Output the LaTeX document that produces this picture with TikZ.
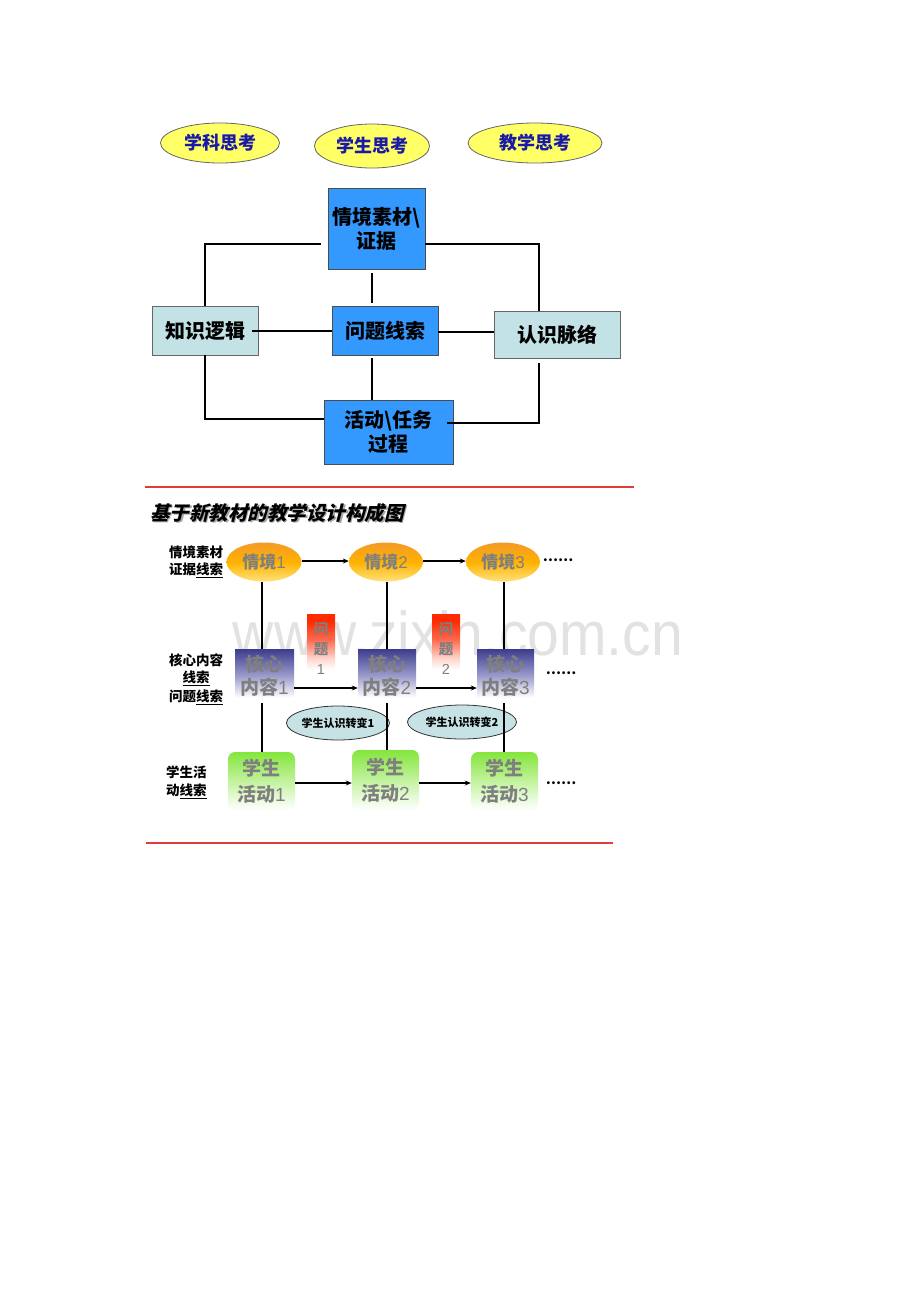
\documentclass[tikz,border=0pt]{standalone}
\usepackage{fontspec}
\newfontfamily\cjk{Noto Sans CJK SC}
\newfontfamily\cjksl[FakeSlant=0.25]{Noto Sans CJK SC}
\newfontfamily\latin{Liberation Sans}
\usetikzlibrary{shapes.geometric,arrows.meta}
\definecolor{thinkfill}{HTML}{FFFF66}
\definecolor{thinktext}{HTML}{1A1AA8}
\definecolor{bluebox}{HTML}{3399FF}
\definecolor{cyanbox}{HTML}{C2E2E6}
\definecolor{redrule}{HTML}{E03C3C}
\definecolor{graytext}{HTML}{7F7F7F}
\definecolor{orangetop}{HTML}{F39A2A}
\definecolor{orangebot}{HTML}{FFE27A}
\definecolor{coretop}{HTML}{3C3C8E}
\definecolor{coremid}{HTML}{9C9CCC}
\definecolor{redtop}{HTML}{FF2A00}
\definecolor{redmid}{HTML}{FF6A50}
\definecolor{redlow}{HTML}{FFD8D0}
\definecolor{greentop}{HTML}{84E63C}
\definecolor{tealfill}{HTML}{C6E2E4}
\definecolor{wm}{HTML}{E2E2E2}
\pgfdeclareverticalshading{probshade}{100bp}{color(0bp)=(white); color(25bp)=(white); color(34bp)=(white); color(42bp)=(redlow); color(56bp)=(redmid); color(70bp)=(redtop); color(100bp)=(redtop)}
\pgfdeclareverticalshading{coreshade}{100bp}{color(0bp)=(white); color(25bp)=(white); color(30bp)=(white); color(50bp)=(coremid); color(75bp)=(coretop); color(100bp)=(coretop)}
\tikzset{
  think/.style={ellipse, draw=black!60, line width=0.8pt, fill=thinkfill, inner sep=0pt,
    text=thinktext, font=\cjk\bfseries\fontsize{18}{18}\selectfont},
  bbox/.style={rectangle, draw=black!70, line width=0.8pt, fill=bluebox, inner sep=0pt,
    align=center, font=\cjk\bfseries\fontsize{20}{24}\selectfont},
  cbox/.style={rectangle, draw=black!60, line width=0.8pt, fill=cyanbox, inner sep=0pt,
    align=center, font=\cjk\bfseries\fontsize{20}{24}\selectfont},
  conn/.style={draw=black, line width=2pt},
  lbl/.style={inner sep=0pt, font=\cjk\bfseries\fontsize{13.5}{14}\selectfont},
  sit/.style={ellipse, inner sep=0pt, top color=orangetop, bottom color=orangebot,
    middle color=orange!60!yellow, text=graytext, font=\cjk\bfseries\fontsize{17}{18}\selectfont},
  core/.style={rectangle, inner sep=0pt, shading=coreshade,
    align=center, text=graytext, font=\cjk\bfseries\fontsize{19}{23}\selectfont},
  prob/.style={rectangle, inner sep=0pt, shading=probshade,
    align=center, text=graytext, font=\cjk\bfseries\fontsize{14.5}{20}\selectfont},
  chg/.style={ellipse, draw=black!80, line width=0.8pt, fill=tealfill, inner sep=0pt,
    font=\cjk\bfseries\fontsize{11}{12}\selectfont},
  act/.style={rectangle, rounded corners=7pt, inner sep=0pt, top color=greentop, bottom color=white,
    align=center, text=graytext, font=\cjk\bfseries\fontsize{19}{26}\selectfont},
  arr/.style={draw=black, line width=1.6pt, -{Stealth[length=6pt,width=5pt]}},
  ln/.style={draw=black, line width=1.8pt},
  dots/.style={inner sep=0pt, font=\cjk\bfseries\fontsize{13.5}{14}\selectfont},
}
\begin{document}
\begin{tikzpicture}[x=1pt,y=-1pt]
\useasboundingbox (0,0) rectangle (920,1302);
\fill[white] (0,0) rectangle (920,1302);

% watermark (behind everything)
\node[inner sep=0pt, text=wm, xscale=0.92] (wmark) at (458,633) {\latin\fontsize{62}{62}\selectfont www.zixin.com.cn};

% ---------- top part ----------
\node[think, minimum width=119pt, minimum height=40pt] (t1) at (220,143) {学科思考};
\node[think, minimum width=115pt, minimum height=44pt] (t2) at (372,146) {学生思考};
\node[think, minimum width=134pt, minimum height=40pt] (t3) at (535,143) {教学思考};

\node[bbox, minimum width=97pt, minimum height=81pt] (qj) at (376.5,228.5) {情境素材\textbackslash\\证据};
\node[bbox, minimum width=106pt, minimum height=49pt] (wt) at (385,330.5) {问题线索};
\node[cbox, minimum width=106pt, minimum height=49pt] (zs) at (205,330.5) {知识逻辑};
\node[cbox, minimum width=126pt, minimum height=47pt] (rs) at (557,334.5) {认识脉络};
\node[bbox, minimum width=129pt, minimum height=64pt] (hd) at (388.5,432) {活动\textbackslash 任务\\过程};

\coordinate (c1) at (321,244);
\coordinate (c2) at (539,244);
\coordinate (v1) at (372,0);
\coordinate (h2) at (0,332);
\coordinate (h3) at (0,419);
\coordinate (h4) at (0,423);
\draw[conn] (c1) -| (zs.north);
\draw[conn] (qj.east |- c2) -- (c2) -- (c2 |- rs.north);
\draw[conn] ([yshift=-4pt]qj.south -| v1) -- ([yshift=3pt]wt.north -| v1);
\draw[conn] ([xshift=-6pt]zs.east) -- (wt.west);
\draw[conn] (wt.east |- h2) -- (rs.west |- h2);
\draw[conn] ([yshift=-3pt]wt.south -| v1) -- (hd.north -| v1);
\draw[conn] (zs.south) |- (hd.west |- h3);
\draw[conn] ([yshift=-5pt]rs.south -| c2) -- (c2 |- h4) -- ([xshift=-6pt]hd.east |- h4);

\draw[draw=redrule, line width=1.3pt] (145,487) -- (634,487);

% ---------- bottom part ----------
\node[anchor=west, inner sep=0pt, text=black!35] (titles) at (151.5,514.5) {\cjksl\bfseries\fontsize{19.5}{20}\selectfont 基于新教材的教学设计构成图};
\node[anchor=west, inner sep=0pt] (title) at (150,513) {\cjksl\bfseries\fontsize{19.5}{20}\selectfont 基于新教材的教学设计构成图};

\node[lbl] (l1a) at (196,552) {情境素材};
\node[lbl] (l1b) at (196,570) {证据\underline{线索}};
\node[lbl] (l2a) at (196,660) {核心内容};
\node[lbl] (l2b) at (196,678) {\underline{线索}};
\node[lbl] (l2c) at (196,697) {问题\underline{线索}};
\node[lbl, anchor=west] (l3a) at (166,772) {学生活};
\node[lbl, anchor=west] (l3b) at (166,791) {动\underline{线索}};

\node[sit, minimum width=75pt, minimum height=39pt] (s1) at (264,562) {情境{\latin\mdseries 1}};
\node[sit, minimum width=74pt, minimum height=39pt] (s2) at (386,562) {情境{\latin\mdseries 2}};
\node[sit, minimum width=74pt, minimum height=39pt] (s3) at (503,562) {情境{\latin\mdseries 3}};
\node[dots] (d1) at (558,560) {……};

\node[prob, minimum width=28pt, minimum height=68pt] (p1) at (321,648) {问\\题\\{\latin\mdseries 1}};
\node[prob, minimum width=28pt, minimum height=68pt] (p2) at (446,648) {问\\题\\{\latin\mdseries 2}};

\node[core, minimum width=59pt, minimum height=54pt] (k1) at (264.5,676) {核心\\内容{\latin\mdseries 1}};
\node[core, minimum width=58pt, minimum height=54pt] (k2) at (387,676) {核心\\内容{\latin\mdseries 2}};
\node[core, minimum width=57pt, minimum height=54pt] (k3) at (505.5,676) {核心\\内容{\latin\mdseries 3}};
\node[dots] (d2) at (561,673) {……};

\node[act, minimum width=67pt, minimum height=58pt] (a1) at (261.5,781) {学生\\活动{\latin\mdseries 1}};
\node[act, minimum width=67pt, minimum height=60pt] (a2) at (385.5,780) {学生\\活动{\latin\mdseries 2}};
\node[act, minimum width=67pt, minimum height=58pt] (a3) at (504.5,781) {学生\\活动{\latin\mdseries 3}};
\node[dots] (d3) at (561,783) {……};

\node[chg, minimum width=103pt, minimum height=34pt] (e1) at (338,723) {学生认识转变1};
\node[chg, minimum width=109pt, minimum height=34pt] (e2) at (462,722) {学生认识转变2};

\coordinate (x1) at (262,0);
\coordinate (x2) at (387,0);
\coordinate (x3) at (504,0);
\coordinate (ys) at (0,561);
\coordinate (yk) at (0,688);
\coordinate (ya) at (0,783);
\draw[ln] (s1.south -| x1) -- (k1.north -| x1);
\draw[ln] (s2.south -| x2) -- (k2.north -| x2);
\draw[ln] (s3.south -| x3) -- (k3.north -| x3);
\draw[ln] (k1.south -| x1) -- (a1.north -| x1);
\draw[ln] (k2.south -| x2) -- (a2.north -| x2);
\draw[ln] (k3.south -| x3) -- (a3.north -| x3);
\draw[arr] (s1.east |- ys) -- (s2.west |- ys);
\draw[arr] (s2.east |- ys) -- (s3.west |- ys);
\draw[arr] (k1.east |- yk) -- (k2.west |- yk);
\draw[arr] (k2.east |- yk) -- (k3.west |- yk);
\draw[arr] (a1.east |- ya) -- (a2.west |- ya);
\draw[arr] (a2.east |- ya) -- (a3.west |- ya);

\draw[draw=redrule, line width=1.3pt] (146,843) -- (613,843);
\end{tikzpicture}
\end{document}
